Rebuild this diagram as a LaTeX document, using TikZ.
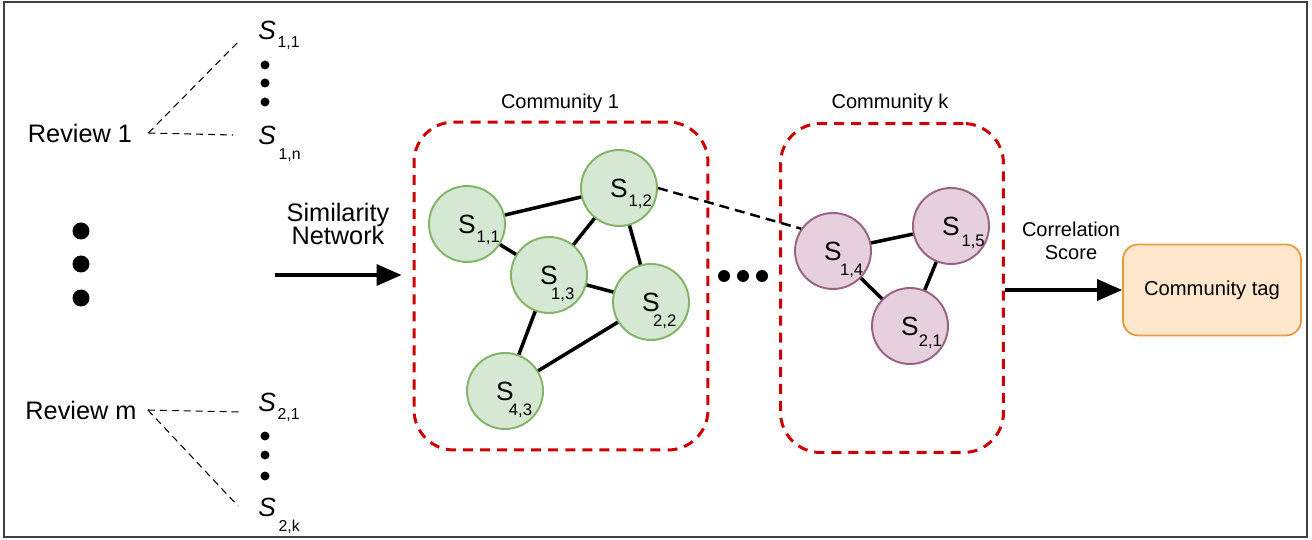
\documentclass[tikz,border=0pt]{standalone}
\usepackage{fontspec}
\setmainfont{Liberation Sans}
\usepackage{tikz}
\usetikzlibrary{arrows.meta}
\definecolor{grfill}{HTML}{D5E8D4}
\definecolor{grline}{HTML}{82B366}
\definecolor{pkfill}{HTML}{E6D0DE}
\definecolor{pkline}{HTML}{996185}
\definecolor{orfill}{HTML}{FFE6CC}
\definecolor{orline}{HTML}{E59A3C}
\definecolor{comred}{HTML}{CC0000}
\newcommand{\subsize}{\fontsize{9.5}{9.5}\selectfont}
\newcommand{\slab}[3]{S\rlap{\hspace{#2}\raisebox{#3}[0pt][0pt]{\subsize #1}}}
\newcommand{\islab}[3]{\textit{S}\hspace{#2}\raisebox{#3}{\fontsize{9}{9}\selectfont #1}}

\begin{document}
\begin{tikzpicture}[x=0.02cm,y=-0.02cm,
  gnode/.style={circle,draw=grline,fill=grfill,line width=1.1pt,minimum size=1.52cm,inner sep=0pt,font=\fontsize{15}{15}\selectfont},
  pnode/.style={gnode,draw=pkline,fill=pkfill},
  tie/.style={line width=2pt},
  crosslink/.style={line width=1.4pt,dash pattern=on 5.7pt off 3.4pt},
  sentdash/.style={line width=0.6pt,dash pattern=on 4pt off 2.8pt},
  combox/.style={draw=comred,line width=1.7pt,dash pattern=on 5.7pt off 4pt,rounded corners=0.8cm},
  flow/.style={line width=2pt,-{Triangle[length=0.5cm,width=0.42cm]}},
  sent/.style={anchor=base west,inner sep=0pt,font=\fontsize{15}{15}\selectfont},
  bigtxt/.style={font=\fontsize{14.4}{13.5}\selectfont,align=center},
  smalltxt/.style={font=\fontsize{11.4}{13}\selectfont,align=center}]
\useasboundingbox (0,0) rectangle (1312,540);
\draw[black!75,line width=0.8pt] (4,2) rectangle (1307,537);

% reviews and their sentences
\node[bigtxt,inner xsep=0.32cm] (rev1) at (80,133) {Review 1};
\node[bigtxt,inner xsep=0.22cm] (revm) at (81,410) {Review m};
\node[sent] (r1a) at (258,40) {\islab{1,1}{1pt}{-4pt}};
\node[sent] (r1n) at (258,145) {\islab{1,n}{1.5pt}{-8pt}};
\node[sent] (rma) at (258,412) {\islab{2,1}{1pt}{-4pt}};
\node[sent] (rmk) at (258,517) {\islab{2,k}{1.5pt}{-8pt}};
\draw[sentdash] (rev1.east) -- ([xshift=-0.36cm]r1a.base west);
\draw[sentdash] (rev1.east) -- ([xshift=-0.5cm,yshift=0.2cm]r1n.base west);
\draw[sentdash] (revm.east) -- ([xshift=-0.36cm]rma.base west);
\draw[sentdash] (revm.east) -- ([xshift=-0.4cm,yshift=0.22cm]rmk.base west);
\foreach \y in {65,83,102,436,455,476} \fill (265,\y) circle (0.09cm);
\foreach \y in {231,264,298} \fill (81,\y) circle (0.17cm);

% communities
\node[combox,minimum width=5.88cm,minimum height=6.56cm] (com1) at (561,286) {};
\node[combox,minimum width=4.46cm,minimum height=6.58cm] (comk) at (892,288) {};
\node[smalltxt] (com1lab) at (560,103) {Community 1};
\node[smalltxt] (comklab) at (890,103) {Community k};

\node[gnode] (s11) at (467,224) {\slab{1,1}{0.5pt}{-5.5pt}};
\node[gnode] (s12) at (619,188) {\slab{1,2}{0.5pt}{-5.5pt}};
\node[gnode] (s13) at (549,275) {\slab{1,3}{-3.8pt}{-9pt}};
\node[gnode] (s22) at (651,302) {\slab{2,2}{-3.8pt}{-9pt}};
\node[gnode] (s43) at (505,391) {\slab{4,3}{-2.8pt}{-9pt}};
\node[pnode] (s14) at (833,251) {\slab{1,4}{-1pt}{-9pt}};
\node[pnode] (s15) at (951,226) {\slab{1,5}{1pt}{-6.5pt}};
\node[pnode] (s21) at (910,326) {\slab{2,1}{0pt}{-6.5pt}};

\draw[tie] (s11) -- (s12);
\draw[tie] (s11) -- (s13);
\draw[tie] (s12) -- (s13);
\draw[tie] (s12) -- (s22);
\draw[tie] (s13) -- (s22);
\draw[tie] (s13) -- (s43);
\draw[tie] (s43) -- (s22);
\draw[tie] (s14) -- (s15);
\draw[tie] (s14) -- (s21);
\draw[tie] (s15) -- (s21);
\draw[crosslink] (s12.0) -- (s14.145);
\foreach \x in {724,743,762} \fill (\x,276) circle (0.12cm);

% arrows
\coordinate (simtail) at (275,275);
\draw[flow,shorten >=0.22cm] (simtail) -- (simtail -| com1.west);
\node[bigtxt] (simlab) at (338,224) {Similarity\\Network};
\node[draw=orline,fill=orfill,line width=1pt,rounded corners=0.3cm,minimum width=3.56cm,minimum height=1.82cm,font=\fontsize{11.5}{13}\selectfont] (tag) at (1212,290) {Community tag};
\draw[flow] (comk.east |- tag.west) -- (tag.west);
\node[smalltxt] (corrlab) at (1071,241) {Correlation\\Score};
\end{tikzpicture}
\end{document}
